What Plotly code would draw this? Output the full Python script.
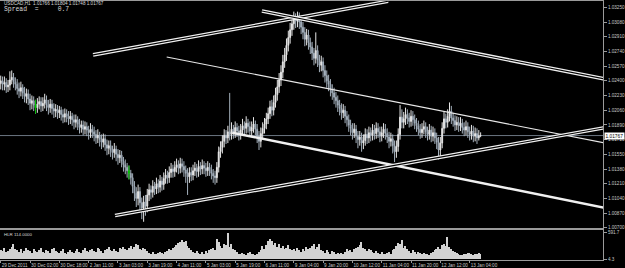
import plotly.graph_objects as go

# ---------------- data (USDCAD H1, prices in pips above 1.0000) ----------------
first_open = 237
closes = [
    240, 236, 238, 233, 235, 241, 244, 239, 236, 231,
    228, 232, 226, 222, 225, 219, 214, 217, 212, 209,
    213, 216, 211, 214, 218, 212, 209, 213, 208, 205,
    207, 203, 206, 201, 198, 202, 199, 196, 199, 195,
    192, 195, 190, 186, 189, 184, 187, 183, 180, 184,
    181, 178, 174, 177, 172, 169, 173, 166, 162, 165,
    160, 157, 161, 155, 151, 154, 147, 143, 140, 136,
    133, 128, 118, 110, 104, 112, 99, 93, 100, 95,
    108, 114, 111, 118, 115, 121, 117, 124, 120, 127,
    131, 128, 134, 138, 135, 140, 143, 139, 144, 141,
    137, 133, 129, 134, 131, 136, 139, 135, 141, 138,
    142, 139, 136, 140, 137, 133, 130, 128, 140, 158,
    163, 170, 177, 174, 181, 178, 184, 180, 186, 182,
    178, 183, 188, 185, 191, 187, 182, 186, 190, 184,
    176, 170, 179, 185, 190, 196, 202, 210, 206, 215,
    224, 233, 241, 250, 262, 270, 281, 290, 299, 306,
    312, 309, 315, 308, 302, 296, 288, 293, 284, 279,
    272, 266, 275, 264, 258, 262, 252, 246, 240, 236,
    230, 226, 221, 217, 212, 208, 203, 206, 199, 195,
    189, 185, 180, 184, 176, 172, 175, 168, 171, 178,
    174, 180, 177, 183, 179, 185, 181, 176, 180, 184,
    179, 175, 170, 173, 165, 158, 164, 178, 198, 192,
    196, 201, 197, 193, 199, 195, 191, 188, 184, 180,
    184, 187, 181, 178, 183, 176, 180, 174, 169, 160,
    168, 185, 196, 192, 199, 205, 197, 194, 189, 192,
    188, 191, 186, 183, 187, 181, 178, 182, 176, 179,
    174, 176.6, 176.7,
]
highs = [
    246, 245, 245, 243, 241, 251, 252, 249, 244, 242,
    238, 239, 236, 233, 231, 230, 225, 223, 222, 218,
    220, 222, 221, 221, 225, 223, 218, 219, 218, 214,
    213, 212, 211, 210, 207, 208, 207, 205, 205, 203,
    201, 201, 199, 196, 194, 194, 193, 192, 188, 191,
    189, 187, 183, 184, 181, 178, 179, 178, 172, 171,
    171, 165, 168, 165, 161, 160, 159, 152, 149, 145,
    142, 137, 133, 124, 117, 120, 117, 105, 107, 108,
    115, 121, 119, 125, 123, 128, 126, 131, 129, 134,
    138, 136, 141, 145, 143, 147, 150, 148, 151, 150,
    147, 142, 139, 140, 140, 143, 146, 144, 148, 146,
    149, 147, 145, 147, 145, 143, 138, 136, 146, 164,
    170, 177, 184, 183, 188, 226, 192, 189, 193, 191,
    188, 190, 196, 193, 199, 196, 193, 193, 198, 194,
    190, 182, 186, 192, 197, 203, 209, 217, 218, 223,
    232, 241, 249, 258, 270, 278, 289, 298, 307, 315,
    320, 318, 320, 319, 314, 308, 302, 300, 299, 290,
    285, 278, 296, 281, 270, 269, 267, 258, 252, 247,
    242, 236, 232, 227, 223, 218, 214, 213, 211, 205,
    201, 195, 191, 191, 189, 182, 182, 180, 178, 185,
    184, 187, 186, 190, 189, 192, 191, 187, 187, 191,
    190, 185, 181, 180, 178, 171, 171, 185, 212, 207,
    204, 209, 207, 203, 206, 205, 201, 197, 194, 190,
    191, 194, 192, 187, 190, 188, 187, 185, 180, 175,
    175, 192, 204, 202, 207, 215, 211, 203, 200, 199,
    198, 198, 196, 192, 194, 192, 187, 189, 188, 186,
    185, 183, 180.4,
]
lows = [
    230, 229, 229, 226, 227, 229, 236, 232, 229, 224,
    220, 222, 219, 215, 214, 212, 206, 207, 205, 202,
    203, 207, 204, 205, 208, 205, 201, 203, 201, 197,
    198, 196, 197, 194, 191, 192, 192, 189, 190, 188,
    184, 186, 183, 179, 180, 177, 178, 176, 172, 174,
    174, 170, 167, 168, 164, 161, 163, 159, 154, 155,
    152, 149, 151, 147, 143, 145, 140, 135, 132, 128,
    126, 120, 110, 101, 94, 96, 90, 80, 77, 84,
    88, 101, 103, 105, 108, 109, 110, 111, 113, 114,
    121, 121, 122, 128, 128, 129, 134, 132, 133, 134,
    129, 122, 108, 122, 124, 125, 130, 128, 129, 131,
    132, 132, 129, 130, 130, 126, 122, 120, 122, 134,
    151, 156, 163, 167, 168, 171, 172, 173, 174, 175,
    171, 172, 177, 178, 179, 180, 175, 176, 180, 177,
    168, 160, 163, 173, 179, 184, 190, 196, 199, 200,
    209, 217, 226, 234, 243, 255, 263, 274, 283, 292,
    299, 301, 302, 300, 294, 288, 280, 281, 276, 271,
    264, 258, 260, 256, 250, 251, 244, 238, 232, 228,
    222, 218, 213, 209, 204, 200, 195, 197, 191, 187,
    181, 177, 172, 174, 168, 162, 165, 158, 161, 165,
    167, 168, 170, 171, 172, 173, 174, 169, 170, 174,
    172, 168, 162, 164, 156, 146, 151, 158, 172, 185,
    185, 189, 190, 186, 187, 188, 184, 181, 177, 173,
    174, 178, 174, 171, 172, 169, 170, 167, 161, 149,
    153, 162, 179, 185, 186, 193, 190, 187, 182, 183,
    181, 182, 179, 176, 177, 174, 171, 172, 169, 170,
    167, 171, 174.8,
]
volumes = [
    210, 180, 250, 160, 190, 230, 270, 330, 240, 200,
    170, 220, 150, 190, 260, 210, 180, 140, 230, 190,
    160, 200, 250, 170, 140, 210, 180, 150, 230, 260,
    190, 160, 140, 180, 220, 150, 130, 170, 200, 160,
    140, 190, 230, 170, 150, 200, 250, 180, 160, 210,
    230, 190, 170, 260, 220, 180, 150, 200, 240, 270,
    210, 180, 230, 190, 160, 250, 220, 280, 240, 200,
    260, 300, 230, 280, 350, 310, 240, 200, 260, 220,
    180, 150, 120, 160, 130, 110, 150, 170, 140, 120,
    160, 190, 230, 210, 250, 280, 310, 360, 390, 420,
    380, 410, 300, 250, 200, 170, 150, 190, 140, 120,
    160, 130, 180, 150, 200, 230, 260, 210, 440, 380,
    300, 260, 350, 310, 591.7, 270, 350, 240, 200, 160,
    130, 110, 150, 120, 100, 140, 170, 130, 110, 90,
    120, 160, 210, 290, 240, 320, 410, 440, 400, 310,
    370, 280, 330, 250, 290, 220, 260, 310, 240, 200,
    230, 180, 260, 210, 170, 240, 190, 280, 230, 260,
    300, 330, 240, 270, 330, 210, 180, 150, 200, 170,
    130, 190, 160, 120, 140, 110, 150, 130, 170, 220,
    190, 210, 160, 230, 250, 280, 320, 390, 260, 220,
    190, 240, 200, 170, 150, 180, 140, 120, 160, 130,
    110, 150, 170, 130, 200, 240, 290, 370, 330, 420,
    260, 300, 220, 180, 150, 200, 170, 130, 160, 140,
    120, 150, 110, 130, 100, 140, 170, 200, 240, 280,
    230, 310, 350, 300, 500, 270, 230, 190, 160, 140,
    120, 100, 90, 130, 110, 150, 140, 120, 100, 130,
    110, 140, 120,
]
green_bars = [19, 70]

tick_bars = [0, 16, 32, 48, 64, 80, 96, 112, 128, 144, 160, 176, 192, 208, 224, 240, 256]
tick_labels = ["29 Dec 2011", "30 Dec 02:00", "30 Dec 18:00", "2 Jan 11:00", "3 Jan 03:00",
               "3 Jan 19:00", "4 Jan 11:00", "5 Jan 03:00", "5 Jan 19:00", "6 Jan 11:00",
               "9 Jan 04:00", "9 Jan 20:00", "10 Jan 12:00", "11 Jan 04:00", "11 Jan 20:00",
               "12 Jan 12:00", "13 Jan 04:00"]
price_ticks = [1.00700, 1.00870, 1.01040, 1.01210, 1.01380, 1.01550, 1.01720, 1.01890,
               1.02060, 1.02230, 1.02400, 1.02570, 1.02740, 1.02910, 1.03080, 1.03250]
vol_ticks = [4.3, 591.7]

# trend lines drawn on the chart: (bar index, pips)
tl_upper_rise_x = [50.4, 211.5];   tl_upper_rise_y = [270.0, 332.0]
tl_top_fall_x = [142.6, 329.2];    tl_top_fall_y = [320.8, 242.3]
tl_mid_fall_x = [90.6, 329.2];     tl_mid_fall_y = [267.6, 168.4]
tl_low_fall_x = [126.4, 329.2];    tl_low_fall_y = [180.0, 93.4]
tl_low_rise_x = [62.4, 329.2];     tl_low_rise_y = [84.2, 185.6]

header_text = "USDCAD,H1  1.01766 1.01804 1.01748 1.01767"
vol_title = "HLR 114.0000"

# ---------------- build ----------------
def px(v):
    return 1 + v / 10000.0

n = len(closes)
xs = list(range(n))
opens = [first_open] + closes[:-1]
O = [px(v) for v in opens]
H = [px(v) for v in highs]
L = [px(v) for v in lows]
C = [px(v) for v in closes]

fig = go.Figure()
fig.add_trace(go.Candlestick(
    x=xs, open=O, high=H, low=L, close=C,
    increasing=dict(line=dict(color="#e6e6e6", width=1), fillcolor="#ffffff"),
    decreasing=dict(line=dict(color="#a4b0bc", width=1), fillcolor="#6f7f90"),
    whiskerwidth=0, hoverinfo="skip", showlegend=False, xaxis="x", yaxis="y"))
fig.add_trace(go.Candlestick(
    x=green_bars, open=[O[i] for i in green_bars], high=[H[i] for i in green_bars],
    low=[L[i] for i in green_bars], close=[C[i] for i in green_bars],
    increasing=dict(line=dict(color="#00c000", width=1), fillcolor="#00c000"),
    decreasing=dict(line=dict(color="#00c000", width=1), fillcolor="#00c000"),
    whiskerwidth=0, hoverinfo="skip", showlegend=False, xaxis="x", yaxis="y"))

def add_line(xv, yv, kind):
    yy = [px(v) for v in yv]
    if kind == "double":
        fig.add_trace(go.Scatter(x=xv, y=yy, mode="lines", line=dict(color="#f0f0f0", width=3.6),
                                 hoverinfo="skip", showlegend=False, xaxis="x", yaxis="y"))
        fig.add_trace(go.Scatter(x=xv, y=yy, mode="lines", line=dict(color="#000000", width=1.1),
                                 hoverinfo="skip", showlegend=False, xaxis="x", yaxis="y"))
    elif kind == "thick":
        fig.add_trace(go.Scatter(x=xv, y=yy, mode="lines", line=dict(color="#f0f0f0", width=2.4),
                                 hoverinfo="skip", showlegend=False, xaxis="x", yaxis="y"))
    else:
        fig.add_trace(go.Scatter(x=xv, y=yy, mode="lines", line=dict(color="#e8e8e8", width=1.1),
                                 hoverinfo="skip", showlegend=False, xaxis="x", yaxis="y"))

add_line(tl_upper_rise_x, tl_upper_rise_y, "double")
add_line(tl_top_fall_x, tl_top_fall_y, "double")
add_line(tl_mid_fall_x, tl_mid_fall_y, "thin")
add_line(tl_low_fall_x, tl_low_fall_y, "thick")
add_line(tl_low_rise_x, tl_low_rise_y, "double")

fig.add_trace(go.Bar(x=xs, y=volumes, marker=dict(color="#d2d2d2", line=dict(width=0)),
                     width=0.75, hoverinfo="skip", showlegend=False, xaxis="x2", yaxis="y2"))

grey = "#9a9a9a"
tickfont = dict(family="Liberation Sans", size=4.6, color="#c8c8c8")
xr = [-0.4, 328.8]
main_dom = [0.1236, 1.0]
vol_dom = [0.0, 0.1158]

fig.update_layout(
    width=625, height=268,
    margin=dict(l=0, r=18, t=1, b=8),
    paper_bgcolor="#000000", plot_bgcolor="#000000",
    showlegend=False, bargap=0,
    xaxis=dict(domain=[0, 1], anchor="y", range=xr, showticklabels=False, ticks="",
               showgrid=False, zeroline=False, showline=True, mirror=True,
               linecolor=grey, linewidth=1, rangeslider=dict(visible=False), fixedrange=True),
    yaxis=dict(domain=main_dom, anchor="x", side="right", range=[1.00698, 1.03323],
               tickvals=price_ticks, ticktext=["%.5f" % v for v in price_ticks],
               ticks="outside", ticklen=3, tickcolor=grey, tickfont=tickfont,
               showgrid=False, zeroline=False, showline=True, linecolor=grey, linewidth=1),
    xaxis2=dict(domain=[0, 1], anchor="y2", range=xr, matches="x", tickangle=0,
                tickvals=tick_bars, ticktext=tick_labels, ticks="outside", ticklen=2,
                tickcolor=grey, ticklabelposition="outside right", tickfont=tickfont,
                showgrid=False, zeroline=False, showline=True, mirror=True,
                linecolor=grey, linewidth=1),
    yaxis2=dict(domain=vol_dom, anchor="x2", side="right", range=[-11, 646.5],
                tickvals=vol_ticks, ticktext=["%g" % v for v in vol_ticks],
                ticks="outside", ticklen=3, tickcolor=grey, tickfont=tickfont,
                showgrid=False, zeroline=False, showline=True, linecolor=grey, linewidth=1),
)

last = C[-1]
fig.add_shape(type="line", xref="x domain", yref="y", x0=0, x1=1, y0=last, y1=last,
              line=dict(color="#6a7580", width=1), layer="below")

fig.add_annotation(xref="paper", yref="y", x=1.0, y=last, xanchor="left", yanchor="middle",
                   xshift=1, text="%.5f" % last, showarrow=False, bgcolor="#ffffff",
                   borderpad=0.5, font=dict(family="Liberation Sans", size=4.8, color="#000000"))
fig.add_annotation(xref="paper", yref="paper", x=0.003, y=0.989, xanchor="left", yanchor="middle",
                   text=header_text, showarrow=False,
                   font=dict(family="Liberation Sans", size=4.6, color="#d8d8d8"))
fig.add_annotation(xref="paper", yref="paper", x=0.003, y=0.966, xanchor="left", yanchor="middle",
                   text="Spread\u00a0\u00a0=\u00a0\u00a0\u00a0\u00a0\u00a00.7", showarrow=False,
                   font=dict(family="Liberation Mono", size=6.4, color="#d8d8d8"))
fig.add_annotation(xref="paper", yref="paper", x=0.003, y=0.097, xanchor="left", yanchor="middle",
                   text=vol_title, showarrow=False,
                   font=dict(family="Liberation Sans", size=4.4, color="#d8d8d8"))

fig.write_html("out.html", config={"displayModeBar": False})
